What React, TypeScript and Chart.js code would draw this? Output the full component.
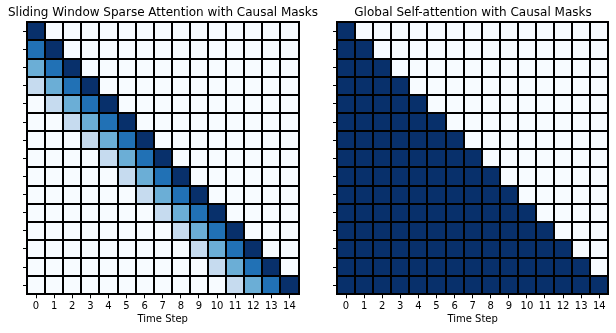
import React, { useEffect, useRef } from "react";
import { Chart, registerables } from "chart.js";

Chart.register(...registerables);

const timeSteps = ["0","1","2","3","4","5","6","7","8","9","10","11","12","13","14"];

const titleLeft = "Sliding Window Sparse Attention with Causal Masks";
const titleRight = "Global Self-attention with Causal Masks";
const xTitle = "Time Step";

const slidingMask: number[][] = [
  [1,0,0,0,0,0,0,0,0,0,0,0,0,0,0],
  [0.75,1,0,0,0,0,0,0,0,0,0,0,0,0,0],
  [0.5,0.75,1,0,0,0,0,0,0,0,0,0,0,0,0],
  [0.25,0.5,0.75,1,0,0,0,0,0,0,0,0,0,0,0],
  [0,0.25,0.5,0.75,1,0,0,0,0,0,0,0,0,0,0],
  [0,0,0.25,0.5,0.75,1,0,0,0,0,0,0,0,0,0],
  [0,0,0,0.25,0.5,0.75,1,0,0,0,0,0,0,0,0],
  [0,0,0,0,0.25,0.5,0.75,1,0,0,0,0,0,0,0],
  [0,0,0,0,0,0.25,0.5,0.75,1,0,0,0,0,0,0],
  [0,0,0,0,0,0,0.25,0.5,0.75,1,0,0,0,0,0],
  [0,0,0,0,0,0,0,0.25,0.5,0.75,1,0,0,0,0],
  [0,0,0,0,0,0,0,0,0.25,0.5,0.75,1,0,0,0],
  [0,0,0,0,0,0,0,0,0,0.25,0.5,0.75,1,0,0],
  [0,0,0,0,0,0,0,0,0,0,0.25,0.5,0.75,1,0],
  [0,0,0,0,0,0,0,0,0,0,0,0.25,0.5,0.75,1],
];

const globalMask: number[][] = [
  [1,0,0,0,0,0,0,0,0,0,0,0,0,0,0],
  [1,1,0,0,0,0,0,0,0,0,0,0,0,0,0],
  [1,1,1,0,0,0,0,0,0,0,0,0,0,0,0],
  [1,1,1,1,0,0,0,0,0,0,0,0,0,0,0],
  [1,1,1,1,1,0,0,0,0,0,0,0,0,0,0],
  [1,1,1,1,1,1,0,0,0,0,0,0,0,0,0],
  [1,1,1,1,1,1,1,0,0,0,0,0,0,0,0],
  [1,1,1,1,1,1,1,1,0,0,0,0,0,0,0],
  [1,1,1,1,1,1,1,1,1,0,0,0,0,0,0],
  [1,1,1,1,1,1,1,1,1,1,0,0,0,0,0],
  [1,1,1,1,1,1,1,1,1,1,1,0,0,0,0],
  [1,1,1,1,1,1,1,1,1,1,1,1,0,0,0],
  [1,1,1,1,1,1,1,1,1,1,1,1,1,0,0],
  [1,1,1,1,1,1,1,1,1,1,1,1,1,1,0],
  [1,1,1,1,1,1,1,1,1,1,1,1,1,1,1],
];

const BLUES = ["#f7fbff","#deebf7","#c6dbef","#9ecae1","#6baed6","#4292c6","#2171b5","#08519c","#08306b"];

function hexToRgb(h: string) {
  return [parseInt(h.slice(1, 3), 16), parseInt(h.slice(3, 5), 16), parseInt(h.slice(5, 7), 16)];
}
function blues(v: number) {
  const t = Math.max(0, Math.min(1, v)) * (BLUES.length - 1);
  const i = Math.min(Math.floor(t), BLUES.length - 2);
  const f = t - i;
  const a = hexToRgb(BLUES[i]);
  const b = hexToRgb(BLUES[i + 1]);
  const c = a.map((x, k) => Math.round(x + (b[k] - x) * f));
  return `rgb(${c[0]},${c[1]},${c[2]})`;
}

const FONT = "'DejaVu Sans', sans-serif";

// Draws the black cell separators at the scale's cell boundaries, snapped to whole pixels.
const gridLinesPlugin = {
  id: "cellGrid",
  afterDatasetsDraw(chart: any) {
    const { ctx, chartArea, scales } = chart;
    const xs = scales.x;
    const ys = scales.y;
    ctx.save();
    ctx.strokeStyle = "#000";
    ctx.lineWidth = 2;
    ctx.beginPath();
    for (let i = 0; i <= timeSteps.length; i++) {
      const px = Math.round(xs.getPixelForValue(i - 0.5));
      ctx.moveTo(px, Math.round(chartArea.top) - 1);
      ctx.lineTo(px, Math.round(chartArea.bottom) + 1);
      const py = Math.round(ys.getPixelForValue(i));
      ctx.moveTo(Math.round(chartArea.left) - 1, py);
      ctx.lineTo(Math.round(chartArea.right) + 1, py);
    }
    ctx.stroke();
    ctx.restore();
  },
};

function Heatmap({ matrix, title, width, yWidth, rightPad }: { matrix: number[][]; title: string; width: number; yWidth: number; rightPad: number }) {
  const ref = useRef<HTMLCanvasElement>(null);
  useEffect(() => {
    if (!ref.current) return;
    const data: any[] = [];
    const colors: string[] = [];
    matrix.forEach((row, r) => {
      row.forEach((v, c) => {
        data.push({ x: timeSteps[c], y: [r, r + 1] });
        colors.push(blues(v));
      });
    });
    const chart = new Chart(ref.current, {
      type: "bar",
      data: {
        labels: timeSteps,
        datasets: [
          {
            data,
            backgroundColor: colors,
            borderWidth: 0,
            borderSkipped: false,
            inflateAmount: 0.5,
            barPercentage: 1,
            categoryPercentage: 1,
          } as any,
        ],
      },
      options: {
        animation: false,
        responsive: false,
        events: [],
        layout: { padding: 0 },
        plugins: {
          legend: { display: false },
          tooltip: { enabled: false },
          title: {
            display: true,
            text: title,
            fullSize: true,
            color: "#000",
            font: { family: FONT, size: 12, weight: "normal" },
            padding: { top: 5.8, bottom: 2.1 },
          } as any,
        },
        scales: {
          x: {
            type: "category",
            offset: true,
            grid: { display: true, drawOnChartArea: false, drawTicks: true, tickLength: 4, offset: false, color: "#000" },
            border: { display: false },
            ticks: { color: "#000", font: { family: FONT, size: 10 }, padding: 2.5, maxRotation: 0, autoSkip: false },
            title: { display: true, text: xTitle, color: "#000", font: { family: FONT, size: 10 }, padding: { top: 0, bottom: 7.5 } },
            afterFit(scale: any) {
              scale.height = 38.7;
            },
          } as any,
          y: {
            type: "linear",
            min: 0,
            max: 15,
            reverse: true,
            grid: { display: true, drawOnChartArea: false, drawTicks: true, tickLength: 4, color: "#000" },
            border: { display: false },
            ticks: { callback: () => "", font: { family: FONT, size: 10 } },
            afterBuildTicks(scale: any) {
              scale.ticks = timeSteps.map((_, i) => ({ value: i + 0.5 }));
            },
            afterFit(scale: any) {
              scale.width = yWidth;
            },
          } as any,
          yRight: {
            type: "linear",
            position: "right",
            display: true,
            grid: { display: false, drawTicks: false },
            border: { display: false },
            ticks: { display: false },
            afterFit(scale: any) {
              scale.width = rightPad;
            },
          } as any,
        },
      },
      plugins: [gridLinesPlugin],
    });
    return () => chart.destroy();
  }, [matrix, title, width, yWidth, rightPad]);
  return <canvas ref={ref} width={width} height={333} style={{ width, height: 333, display: "block" }} />;
}

export default function App() {
  return (
    <div style={{ position: "fixed", left: 0, top: 0, width: 616, height: 333, background: "#fff", overflow: "hidden" }}>
      <div style={{ position: "absolute", left: 0, top: 0 }}>
        <Heatmap matrix={slidingMask} title={titleLeft} width={326} yWidth={27} rightPad={27.5} />
      </div>
      <div style={{ position: "absolute", left: 308, top: 0 }}>
        <Heatmap matrix={globalMask} title={titleRight} width={330} yWidth={29} rightPad={29.7} />
      </div>
    </div>
  );
}
